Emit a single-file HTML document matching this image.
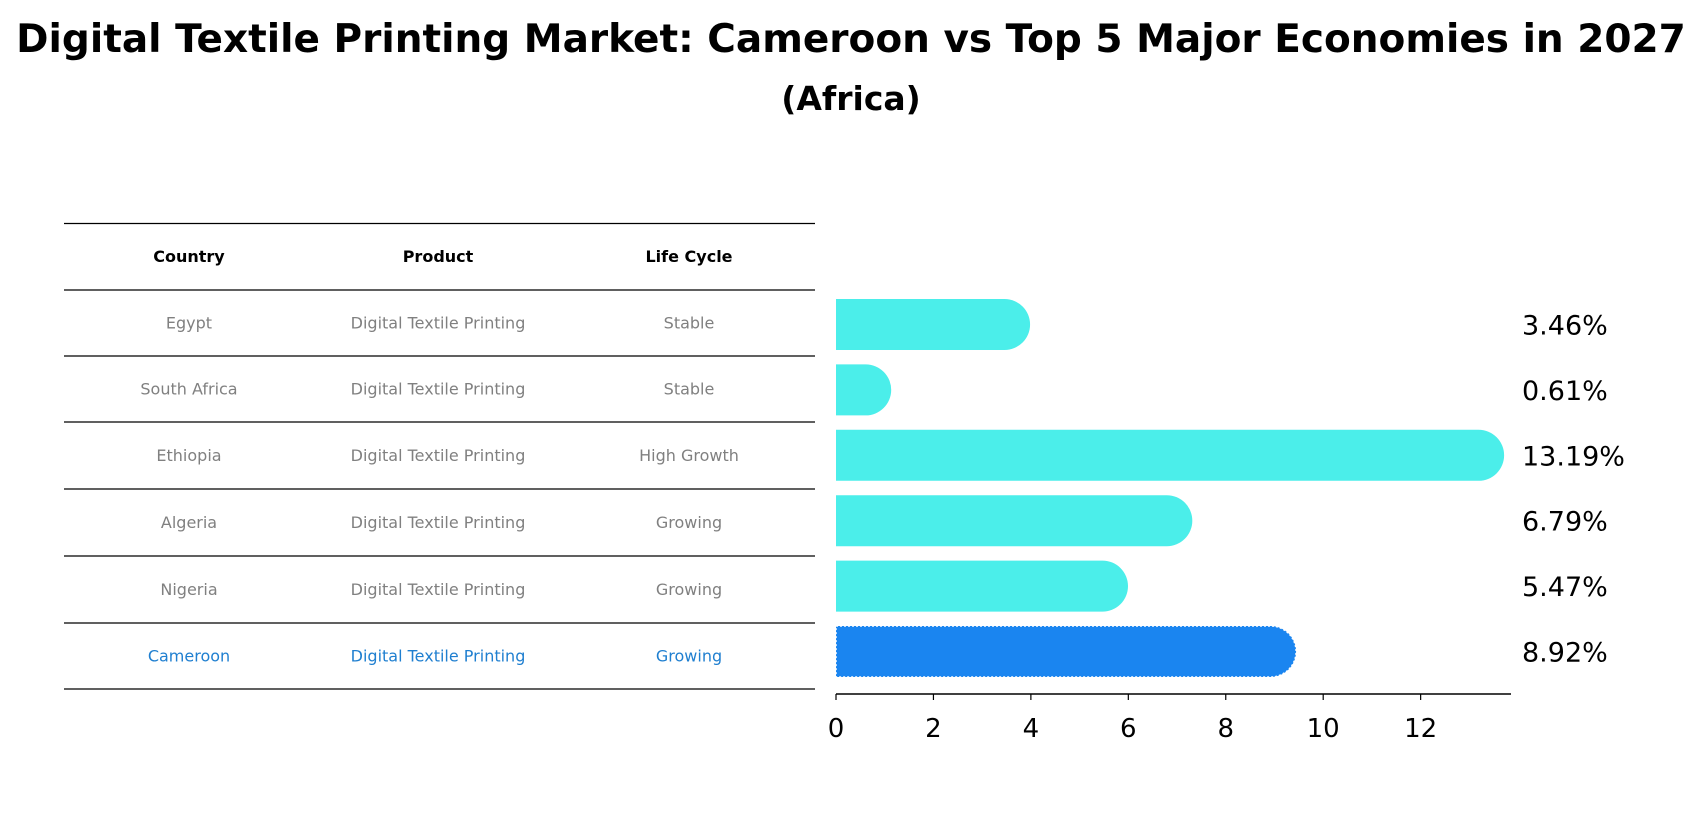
<!DOCTYPE html>
<html><head><meta charset="utf-8"><style>
body{margin:0;background:#fff;font-family:"Liberation Sans","DejaVu Sans",sans-serif}
</style></head><body>
<svg width="1702" height="823" xmlns="http://www.w3.org/2000/svg" font-family="DejaVu Sans, Liberation Sans, sans-serif">
<text x="851" y="52" text-anchor="middle" font-size="39" font-weight="bold">Digital Textile Printing Market: Cameroon vs Top 5 Major Economies in 2027</text>
<text x="851" y="110" text-anchor="middle" font-size="33" font-weight="bold">(Africa)</text>
<g id="table"></g>
<g id="bars"></g>
</svg>
<script>
const countries=["Egypt","South Africa","Ethiopia","Algeria","Nigeria","Cameroon"];
const products=["Digital Textile Printing","Digital Textile Printing","Digital Textile Printing","Digital Textile Printing","Digital Textile Printing","Digital Textile Printing"];
const lifecycles=["Stable","Stable","High Growth","Growing","Growing","Growing"];
const values=[3.46,0.61,13.19,6.79,5.47,8.92];
const ticks=[0,2,4,6,8,10,12];
const NS="http://www.w3.org/2000/svg";
function mk(t,a,p,txt){const e=document.createElementNS(NS,t);for(const k in a)e.setAttribute(k,a[k]);if(txt!==undefined)e.textContent=txt;p.appendChild(e);return e;}
const x0=836,unit=48.72;
function xs(v){return x0+v*unit;}
function yc(i){return 324.5+i*65.4;}
const tb=document.getElementById('table'),bg=document.getElementById('bars');
const lineYs=[223.5,290,356,422,489,556,623,689];
lineYs.forEach((y,i)=>{const l=mk('line',{x1:64,x2:815,y1:y,y2:y,stroke:'#000','stroke-width':1.2},tb);

});
const cols=[189,438,689];
["Country","Product","Life Cycle"].forEach((h,j)=>{const t=mk('text',{x:cols[j],y:262,'text-anchor':'middle','font-size':16,'font-weight':'bold'},tb,h);

});
countries.forEach((c,i)=>{const y=(lineYs[i+1]+lineYs[i+2])/2+5.5;const col=i===5?'#1f7fd0':'#808080';
[c,products[i],lifecycles[i]].forEach((s,j)=>{const t=mk('text',{x:cols[j],y:y,'text-anchor':'middle','font-size':16,fill:col},tb,s);

});});
const h=51,r=25.5;
values.forEach((v,i)=>{const y=yc(i);const hi=i===5;const fill=hi?'#1a85f0':'#4beeea';
const g=mk('g',{},bg);


const w=xs(v)-x0;
mk('path',{d:`M${x0},${y-h/2} H${x0+w} A${r},${r} 0 0 1 ${x0+w},${y+h/2} H${x0} Z`,fill:fill,stroke:hi?'#fff':'none','stroke-width':hi?1.5:0,'stroke-dasharray':'2,2'},g);
const t=mk('text',{x:1522,y:y+10,'font-size':27},bg,v.toFixed(2)+'%');

});
const ax=mk('line',{x1:x0,x2:1511,y1:694,y2:694,stroke:'#000','stroke-width':1.5},bg);


ticks.forEach(v=>{const tk=mk('line',{x1:xs(v),x2:xs(v),y1:694,y2:700,stroke:'#000','stroke-width':1.2},bg);


const t=mk('text',{x:xs(v),y:737,'text-anchor':'middle','font-size':26},bg,String(v));

});
</script>
</body></html>
